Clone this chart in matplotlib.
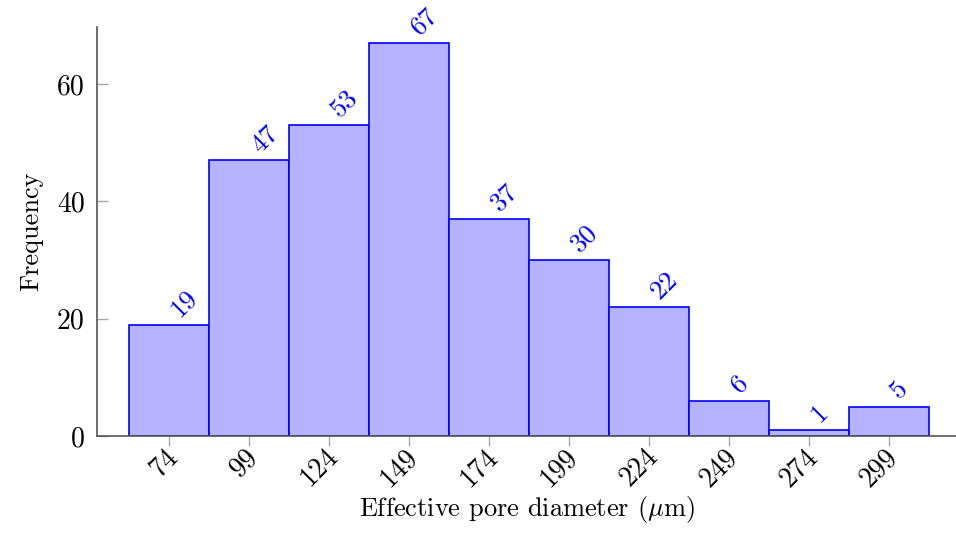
import matplotlib
matplotlib.use("Agg")
import matplotlib.pyplot as plt
import matplotlib.transforms as mtransforms

# Histogram of effective pore diameters (bin centres in µm)
bin_centers = [74, 99, 124, 149, 174, 199, 224, 249, 274, 299]
frequencies = [19, 47, 53, 67, 37, 30, 22, 6, 1, 5]
bin_width = 25
y_ticks = [0, 20, 40, 60]

plt.rcParams["font.family"] = "cmr10"
plt.rcParams["mathtext.fontset"] = "cm"
plt.rcParams["axes.formatter.use_mathtext"] = True

fig = plt.figure(figsize=(9.56, 5.35), dpi=100)
ax = fig.add_axes([0.1015, 0.185, 0.8985, 0.7645])

ax.bar(bin_centers, frequencies, width=bin_width, color="#b3b3ff",
       edgecolor="#0000ff", linewidth=1.2, zorder=2)

for xc, f in zip(bin_centers, frequencies):
    ax.annotate(str(f), xy=(xc, f), xytext=(4, 8.5), textcoords="offset points",
                rotation=45, rotation_mode="anchor", ha="left", va="center",
                color="#0000ff", fontsize=19.5, zorder=3, annotation_clip=False)

ax.set_xlim(51.5, 319.9)
ax.set_ylim(0, 69.7)

ax.set_xticks(bin_centers)
ax.set_xticklabels([str(c) for c in bin_centers], rotation=45,
                   rotation_mode="anchor", ha="right", va="center", fontsize=20)
ax.set_yticks(y_ticks)
ax.set_yticklabels([str(t) for t in y_ticks], fontsize=20)

ax.tick_params(axis="y", direction="in", length=8, width=1, color="#a8a8a8", pad=9)
ax.tick_params(axis="x", direction="out", length=7.5, width=1, color="#a8a8a8", pad=4.5)

offset = mtransforms.ScaledTranslation(5 / 100, 0, fig.dpi_scale_trans)
for lbl in ax.get_xticklabels():
    lbl.set_transform(lbl.get_transform() + offset)

for side in ("top", "right"):
    ax.spines[side].set_visible(False)
for side in ("left", "bottom"):
    ax.spines[side].set_color("#555555")
    ax.spines[side].set_linewidth(1.2)

ax.set_xlabel(r"Effective pore diameter ($\mu$m)", fontsize=19, labelpad=2)
ax.set_ylabel("Frequency", fontsize=19, labelpad=10)

fig.savefig("out.png", dpi=100)
